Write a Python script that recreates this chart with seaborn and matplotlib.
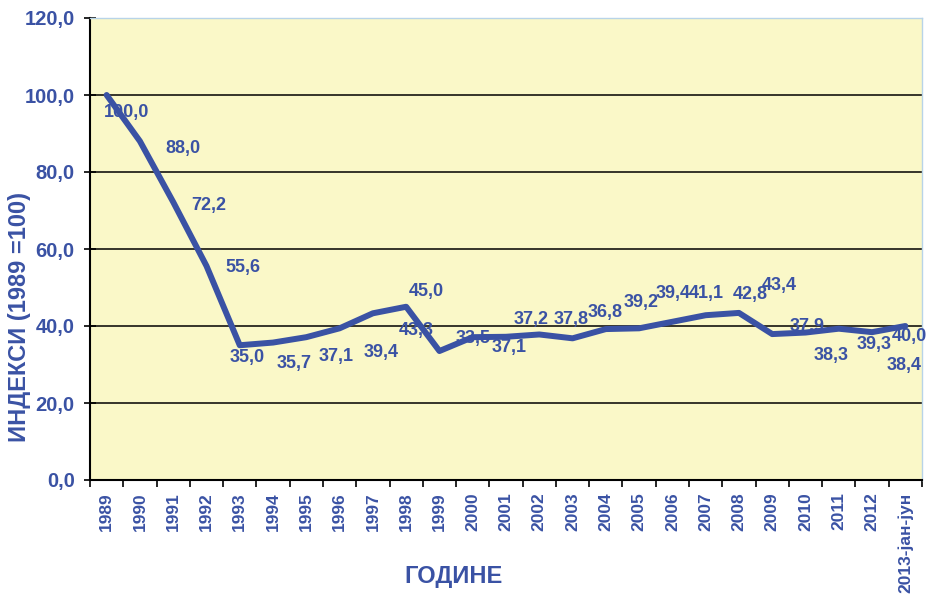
import numpy as np
import pandas as pd
import matplotlib
matplotlib.use("Agg")
import matplotlib.pyplot as plt
import seaborn as sns

# data
years = [str(y) for y in range(1989, 2013)] + ["2013-јан-јун"]
index_values = [100.0, 88.0, 72.2, 55.6, 35.0, 35.7, 37.1, 39.4, 43.3, 45.0,
                33.5, 37.1, 37.2, 37.8, 36.8, 39.2, 39.4, 41.1, 42.8, 43.4,
                37.9, 38.3, 39.3, 38.4, 40.0]
value_labels = [f"{v:.1f}".replace(".", ",") for v in index_values]

# label offsets (pixels) - the labels in the original sit off to the side
label_dx = [20, 43, 36, 36, 7, 21, 30, 42, 43, 20, 34, 36, 25, 32, 33, 35,
            34, 34, 45, 40, 35, 26, 35, 32, 4]
label_dy = [-18, -7, -3, -2, -12, -21, -19, -24, -17, 15, 13, -10, 17, 15,
            26, 27, 35, 28, 21, 27, 8, -23, -16, -33, -11]

blue = "#3A52A4"
df = pd.DataFrame({"pos": np.arange(len(years)), "index": index_values})

sns.set_style("white")
plt.rcParams["font.family"] = ["Liberation Sans", "DejaVu Sans"]
plt.rcParams["font.weight"] = "bold"

fig = plt.figure(figsize=(9.32, 6.06), dpi=100)
ax = fig.add_axes([90 / 932, 1 - 480 / 606, (922 - 90) / 932, (480 - 18) / 606])
ax.set_facecolor("#FAF8C8")

sns.lineplot(data=df, x="pos", y="index", ax=ax, color=blue, linewidth=4.3,
             sort=False, zorder=3)

for i, (v, lab) in enumerate(zip(index_values, value_labels)):
    ax.annotate(lab, (i, v), xytext=(label_dx[i], label_dy[i]),
                textcoords="offset pixels", ha="center", va="center",
                color=blue, fontsize=13, fontweight="bold", zorder=4)

ax.set_ylim(0, 120)
ax.set_xlim(-0.5, len(years) - 0.5)
ax.set_yticks(np.arange(0, 121, 20))
ax.set_yticklabels([f"{t:.1f}".replace(".", ",") for t in np.arange(0, 121, 20)],
                   color=blue, fontsize=14.5, fontweight="bold")
ax.yaxis.grid(True, color="black", linewidth=1.1)
ax.set_axisbelow(True)

ax.set_xticks(np.arange(len(years)))
ax.set_xticklabels(years, rotation=90, color=blue, fontsize=12.5, fontweight="bold")
ax.set_xticks(np.arange(len(years) + 1) - 0.5, minor=True)
ax.tick_params(axis="x", which="major", length=0, pad=9)
ax.tick_params(axis="x", which="minor", length=5, width=1.2, direction="out",
               color="black", bottom=True)
ax.tick_params(axis="y", length=8, width=1.2, direction="inout", color="black",
               left=True, pad=7)

for side in ["left", "bottom"]:
    ax.spines[side].set_color("black")
    ax.spines[side].set_linewidth(1.5)
for side in ["top", "right"]:
    ax.spines[side].set_color("#B8D4E8")
    ax.spines[side].set_linewidth(1.0)

ax.set_xlabel("ГОДИНЕ", color=blue, fontsize=17, fontweight="bold")
ax.set_ylabel("ИНДЕКСИ (1989 =100)", color=blue, fontsize=17, fontweight="bold")
ax.xaxis.set_label_coords(0.4375, -0.185)
ax.yaxis.set_label_coords(-0.071, 0.353)

fig.savefig("out.png", dpi=100, facecolor="white")
